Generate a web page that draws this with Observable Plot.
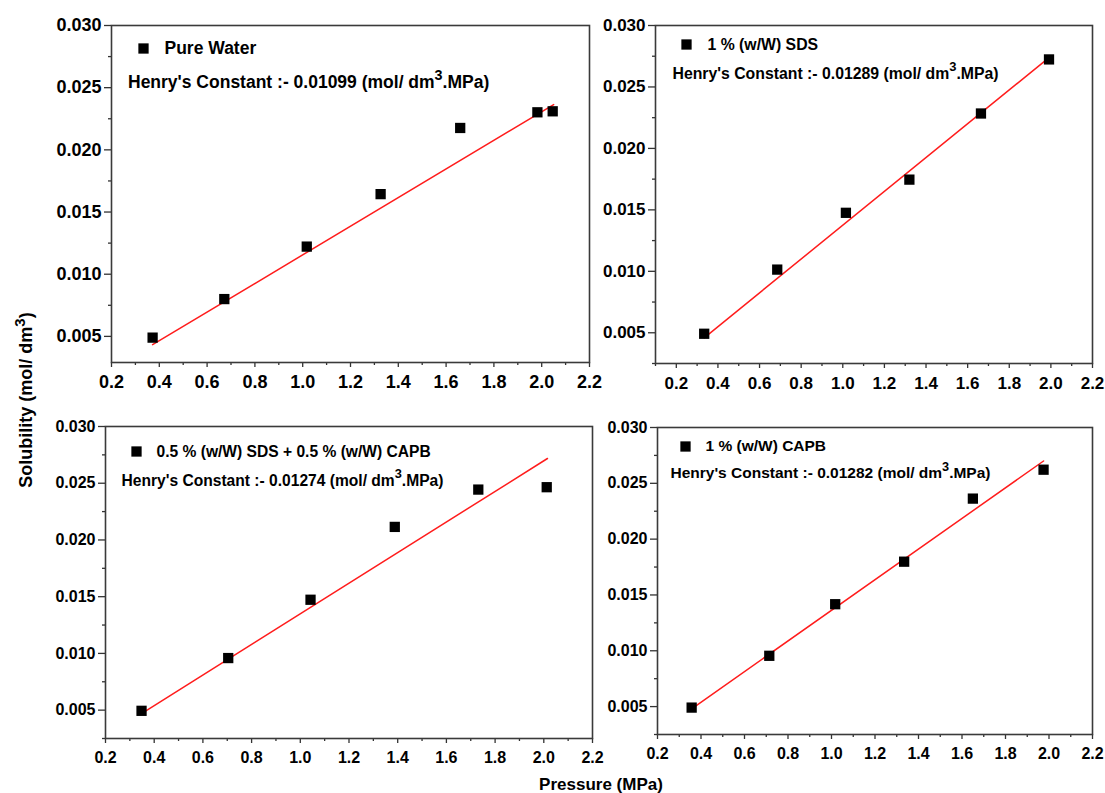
<!DOCTYPE html>
<html><head><meta charset="utf-8">
<script src="https://cdn.jsdelivr.net/npm/d3@7"></script>
<script src="https://cdn.jsdelivr.net/npm/@observablehq/plot@0.6"></script>
<style>
body{margin:0;background:#fff;}
#wrap{position:relative;width:1105px;height:793px;font-family:"Liberation Sans",Arial,sans-serif;font-weight:bold;color:#000;}
.p{position:absolute;}
#ytitle{position:absolute;left:26px;top:400px;transform:translate(-50%,-50%) rotate(-90deg);font-size:18px;white-space:nowrap;}
#ytitle sup{font-size:15px;line-height:0;}
#xtitle{position:absolute;left:601px;top:785px;transform:translate(-50%,-50%);font-size:17px;white-space:nowrap;}
</style></head><body>
<div id="wrap">
  <div id="ytitle">Solubility (mol/ dm<sup>3</sup>)</div>
  <div id="xtitle">Pressure (MPa)</div>
</div>
<script>
// ---- data ----
const pureWaterP = [0.372, 0.672, 1.017, 1.326, 1.659, 1.982, 2.046];
const pureWaterS = [0.0049, 0.0080, 0.01222, 0.01644, 0.02176, 0.02302, 0.0231];
const sdsP = [0.334, 0.685, 1.015, 1.320, 1.664, 1.991];
const sdsS = [0.00492, 0.01014, 0.01476, 0.01746, 0.02284, 0.02724];
const mixP = [0.348, 0.704, 1.042, 1.388, 1.731, 2.012];
const mixS = [0.00494, 0.00959, 0.01473, 0.02115, 0.02444, 0.02465];
const capbP = [0.357, 0.714, 1.017, 1.334, 1.650, 1.975];
const capbS = [0.00491, 0.00955, 0.01417, 0.01798, 0.02363, 0.02622];
// linear fit endpoints (start P, start S, end P, end S)
const fitPureWater = [0.372, 0.00433, 2.05, 0.02364];
const fitSds = [0.334, 0.00459, 1.994, 0.02743];
const fitMix = [0.348, 0.0047, 2.015, 0.02718];
const fitCapb = [0.357, 0.0048, 1.975, 0.0270];
const legendLabels = ["Pure Water", "1 % (w/W) SDS", "0.5 % (w/W) SDS + 0.5 % (w/W) CAPB", "1 % (w/W) CAPB"];
const henryLabels = [
  "Henry's Constant :- 0.01099 (mol/ dm³.MPa)",
  "Henry's Constant :- 0.01289 (mol/ dm³.MPa)",
  "Henry's Constant :- 0.01274 (mol/ dm³.MPa)",
  "Henry's Constant :- 0.01282 (mol/ dm³.MPa)"
];
const xTicks = [0.2, 0.4, 0.6, 0.8, 1.0, 1.2, 1.4, 1.6, 1.8, 2.0, 2.2];
const xMinorTicks = [0.1, 0.3, 0.5, 0.7, 0.9, 1.1, 1.3, 1.5, 1.7, 1.9, 2.1];
const yTicks = [0.005, 0.010, 0.015, 0.020, 0.025, 0.030];
const yMinorTicks = [0.0025, 0.0075, 0.0125, 0.0175, 0.0225, 0.0275];

function supify(svg, fs) {
  d3.select(svg).selectAll("text").each(function() {
    const t = this.textContent;
    if (t.includes("³")) {
      const [a, b] = t.split("³");
      const sel = d3.select(this);
      sel.selectAll("*").remove();
      sel.text(null);
      sel.append("tspan").text(a);
      sel.append("tspan").attr("dy", -0.48 * fs).attr("font-size", 0.82 * fs).text("3");
      sel.append("tspan").attr("dy", 0.48 * fs).text(b);
    }
  });
}

function panel(c) {
  const data = c.P.map((p, i) => ({p, s: c.S[i]}));
  const fit = [{p: c.fit[0], s: c.fit[1]}, {p: c.fit[2], s: c.fit[3]}];
  const inX = v => v >= c.xd[0] - 1e-9 && v <= c.xd[1] + 1e-9;
  const inY = v => v >= c.yd[0] - 1e-9 && v <= c.yd[1] + 1e-9;
  const svg = Plot.plot({
    width: c.w, height: c.h,
    marginLeft: c.ml, marginRight: c.mr, marginTop: c.mt, marginBottom: c.mb,
    x: {domain: c.xd, label: null},
    y: {domain: c.yd, label: null},
    style: {background: "none", overflow: "visible", fontFamily: "'Liberation Sans', Arial, sans-serif",
            fontWeight: "bold", fontSize: c.tfs + "px", color: "#000"},
    marks: [
      Plot.axisX({ticks: xTicks.filter(inX), tickFormat: d3.format(".1f"), tickSize: 5, tickPadding: 8,
                  label: null, stroke: "#333", strokeWidth: 1.3}),
      Plot.axisX({ticks: xMinorTicks.filter(inX), tickFormat: () => "", tickSize: 3, label: null,
                  stroke: "#333", strokeWidth: 1.3}),
      Plot.axisY({ticks: yTicks.filter(inY), tickFormat: d3.format(".3f"), tickSize: 7, tickPadding: 3,
                  label: null, stroke: "#333", strokeWidth: 1.3}),
      Plot.axisY({ticks: yMinorTicks.filter(inY), tickFormat: () => "", tickSize: 3, label: null,
                  stroke: "#333", strokeWidth: 1.3}),
      Plot.frame({stroke: "#3a3a3a", strokeWidth: 1.6}),
      Plot.line(fit, {x: "p", y: "s", stroke: "#ff1c1c", strokeWidth: 1.5}),
      Plot.dot(data, {x: "p", y: "s", symbol: "square", r: 5.8, fill: "#000", stroke: "none"}),
      Plot.dot([c.legend], {frameAnchor: "top-left", dx: c.lg[0], dy: c.lg[1], symbol: "square", r: 5.8, fill: "#000", stroke: "none"}),
      Plot.text([c.legend], {frameAnchor: "top-left", dx: c.lg[2], dy: c.lg[1], text: d => d, textAnchor: "start",
                lineAnchor: "middle", fontSize: c.lfs, fill: "#000"}),
      Plot.text([c.henry], {frameAnchor: "top-left", dx: c.lg[3], dy: c.lg[4], text: d => d, textAnchor: "start",
                lineAnchor: "middle", fontSize: c.lfs, fill: "#000"})
    ]
  });
  supify(svg, c.lfs);
  const div = document.createElement("div");
  div.className = "p";
  div.style.left = c.left + "px";
  div.style.top = c.top + "px";
  div.style.width = c.w + "px";
  div.style.height = c.h + "px";
  div.appendChild(svg);
  document.getElementById("wrap").appendChild(div);
}

panel({P: pureWaterP, S: pureWaterS, fit: fitPureWater, legend: legendLabels[0], henry: henryLabels[0],
  xd: [0.2, 2.2], yd: [0.0029, 0.030], left: 0, top: 0, w: 595, h: 400, ml: 111, mr: 6, mt: 25, mb: 38,
  tfs: 18, lfs: 17.5, lg: [32, 23, 53, 16.5, 57]});
panel({P: sdsP, S: sdsS, fit: fitSds, legend: legendLabels[1], henry: henryLabels[1],
  xd: [0.1, 2.2], yd: [0.0025, 0.030], left: 595, top: 0, w: 510, h: 400, ml: 60, mr: 13, mt: 25, mb: 37,
  tfs: 17, lfs: 15.8, lg: [31, 19, 52, 17, 48]});
panel({P: mixP, S: mixS, fit: fitMix, legend: legendLabels[2], henry: henryLabels[2],
  xd: [0.2, 2.2], yd: [0.0025, 0.030], left: 0, top: 400, w: 598, h: 380, ml: 105, mr: 6, mt: 26, mb: 42,
  tfs: 16, lfs: 15.6, lg: [31, 25, 51, 16, 54]});
panel({P: capbP, S: capbS, fit: fitCapb, legend: legendLabels[3], henry: henryLabels[3],
  xd: [0.2, 2.2], yd: [0.0025, 0.030], left: 598, top: 400, w: 507, h: 380, ml: 59, mr: 13, mt: 27, mb: 46,
  tfs: 16, lfs: 15.5, lg: [28, 19, 48, 13, 46]});
</script>
</body></html>
